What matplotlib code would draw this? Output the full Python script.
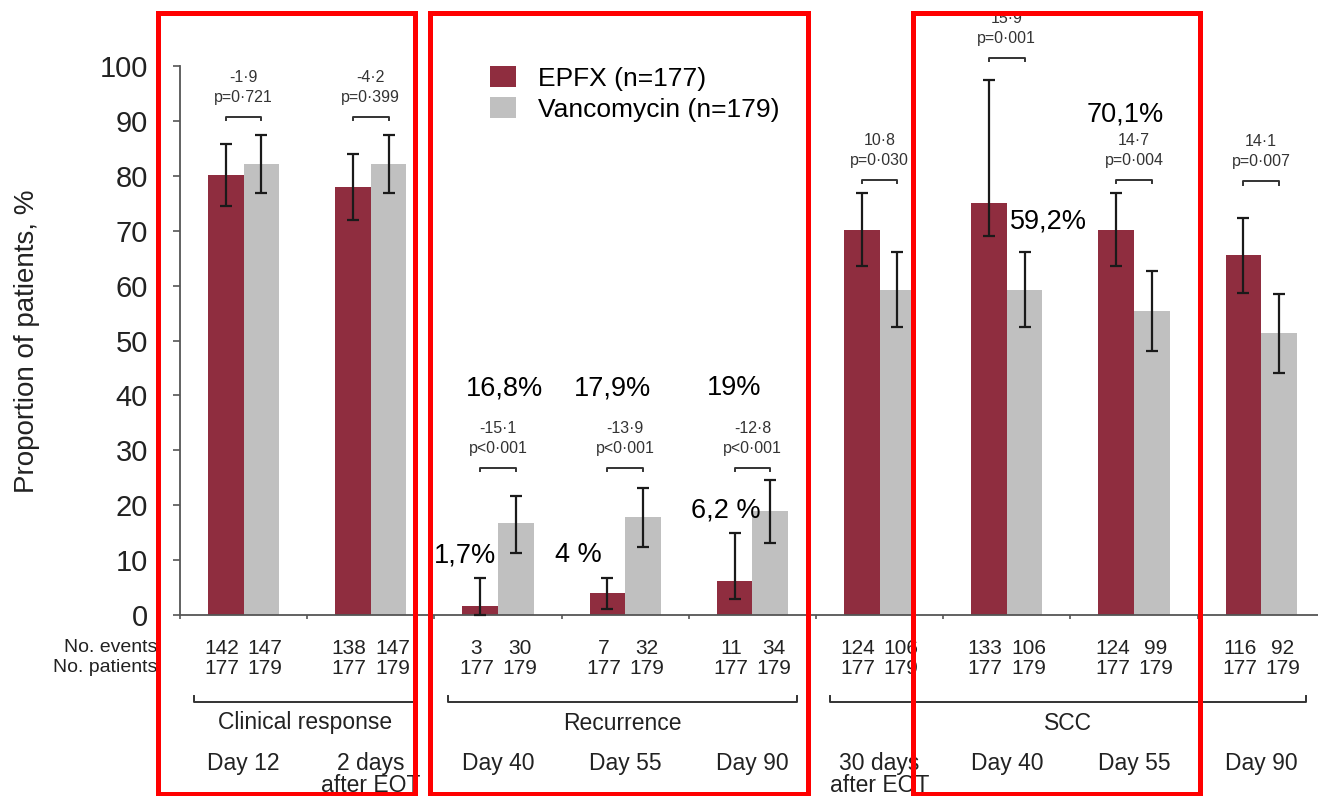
import matplotlib
matplotlib.use("Agg")
import matplotlib.pyplot as plt
import matplotlib.transforms as mtransforms
from matplotlib.patches import Rectangle

plt.rcParams['font.family'] = ['Liberation Sans', 'DejaVu Sans']

# data
groups = ["Day 12", "2 days\nafter EOT", "Day 40", "Day 55", "Day 90",
          "30 days\nafter EOT", "Day 40", "Day 55", "Day 90"]
epfx = [80.2, 78.0, 1.7, 4.0, 6.2, 70.1, 75.1, 70.1, 65.5]
vanc = [82.1, 82.1, 16.8, 17.9, 19.0, 59.2, 59.2, 55.3, 51.4]
epfx_lo = [74.5, 71.9, 0.0, 1.1, 2.9, 63.6, 69.0, 63.6, 58.6]
epfx_hi = [85.8, 84.0, 6.7, 6.7, 15.0, 76.9, 97.4, 76.9, 72.3]
vanc_lo = [76.9, 76.9, 11.3, 12.4, 13.1, 52.5, 52.5, 48.1, 44.1]
vanc_hi = [87.4, 87.4, 21.7, 23.2, 24.5, 66.2, 66.2, 62.7, 58.5]
events_epfx = [142, 138, 3, 7, 11, 124, 133, 124, 116]
events_vanc = [147, 147, 30, 32, 34, 106, 106, 99, 92]
patients_epfx = [177] * 9
patients_vanc = [179] * 9
diff_text = ["-1·9", "-4·2", "-15·1", "-13·9", "-12·8", "10·8", "15·9", "14·7", "14·1"]
p_text = ["p=0·721", "p=0·399", "p<0·001", "p<0·001", "p<0·001",
          "p=0·030", "p=0·001", "p=0·004", "p=0·007"]
bracket_y = [90.7, 90.7, 26.8, 26.8, 26.8, 79.2, 101.5, 79.2, 79.0]
sections = [("Clinical response", 0, 1), ("Recurrence", 2, 4), ("SCC", 5, 8)]

# overlay percentages added on the slide (label, x, y in data units)
overlay_labels = ["16,8%", "17,9%", "19%", "1,7%", "4 %", "6,2 %", "59,2%", "70,1%"]
overlay_x = [2.55, 3.40, 4.36, 2.24, 3.13, 4.29, 6.83, 7.43]
overlay_y = [41.3, 41.3, 41.3, 10.9, 10.9, 19.1, 71.6, 91.1]

W, H = 1318, 796
fig = plt.figure(figsize=(W / 100, H / 100), dpi=100)
ax = fig.add_axes([180 / W, (H - 615) / H, (W - 180) / W, 549 / H])

red = "#8F2D3F"
grey = "#C0C0C0"
bw = 0.28
xc = [i + 0.5 for i in range(len(groups))]
xe = [x - bw / 2 for x in xc]
xv = [x + bw / 2 for x in xc]

b1 = ax.bar(xe, epfx, width=bw, color=red, label="EPFX (n=177)", zorder=2)
b2 = ax.bar(xv, vanc, width=bw, color=grey, label="Vancomycin (n=179)", zorder=2)

err_e = [[v - lo for v, lo in zip(epfx, epfx_lo)], [hi - v for v, hi in zip(epfx, epfx_hi)]]
err_v = [[v - lo for v, lo in zip(vanc, vanc_lo)], [hi - v for v, hi in zip(vanc, vanc_hi)]]
ax.errorbar(xe, epfx, yerr=err_e, fmt="none", ecolor="#1a1a1a", elinewidth=1.6,
            capsize=4.5, capthick=1.6, zorder=3, clip_on=False)
ax.errorbar(xv, vanc, yerr=err_v, fmt="none", ecolor="#1a1a1a", elinewidth=1.6,
            capsize=4.5, capthick=1.6, zorder=3, clip_on=False)

# comparison brackets with difference and p value
for i in range(len(groups)):
    y = bracket_y[i]
    ax.plot([xe[i], xe[i], xv[i], xv[i]], [y - 0.6, y, y, y - 0.6],
            color="#333333", lw=1.4, clip_on=False)
    ax.annotate(p_text[i], (xc[i], y), xytext=(0, 14), textcoords="offset points",
                ha="center", va="center", fontsize=11.5, color="#333333",
                annotation_clip=False)
    ax.annotate(diff_text[i], (xc[i], y), xytext=(0, 28.5), textcoords="offset points",
                ha="center", va="center", fontsize=11.5, color="#333333",
                annotation_clip=False)

for lab, x, y in zip(overlay_labels, overlay_x, overlay_y):
    ax.text(x, y, lab, ha="center", va="center", fontsize=19.5, color="black", zorder=5)

ax.set_xlim(0, (W - 180) / 127.2)
ax.set_ylim(0, 100)
ax.set_yticks(range(0, 101, 10))
ax.set_xticks(range(0, 9))
ax.set_xticklabels([])
ax.tick_params(axis="y", length=5, width=1.2, color="#555555", labelsize=21,
               pad=18, labelcolor="#222222")
ax.tick_params(axis="x", length=3, width=1.2, color="#555555")
for s in ["top", "right"]:
    ax.spines[s].set_visible(False)
for s in ["left", "bottom"]:
    ax.spines[s].set_color("#555555")
    ax.spines[s].set_linewidth(1.3)

fig.text(27 / W, 1 - 341 / H, "Proportion of patients, %", rotation=90,
         ha="center", va="center", fontsize=20, color="#222222",
         family=["Liberation Sans Narrow", "Liberation Sans"])

ax.legend(handles=[b1, b2], loc="upper left", bbox_to_anchor=(490 / W, 1 - 66 / H),
          bbox_transform=fig.transFigure, frameon=False, fontsize=19,
          handlelength=1.0, handleheight=0.85, handletextpad=0.8, labelspacing=0.25,
          borderpad=0, borderaxespad=0)

# table under the axis
tr = mtransforms.blended_transform_factory(ax.transData, fig.transFigure)
fy = lambda py: 1 - py / H
fig.text(157 / W, fy(648), "No. events", ha="right", va="center", fontsize=14, color="#222222")
fig.text(157 / W, fy(668), "No. patients", ha="right", va="center", fontsize=14, color="#222222")
for i in range(len(groups)):
    ax.text(xe[i] - 0.03, fy(648), str(events_epfx[i]), transform=tr, ha="center",
            va="center", fontsize=15, color="#222222")
    ax.text(xv[i] + 0.03, fy(648), str(events_vanc[i]), transform=tr, ha="center",
            va="center", fontsize=15, color="#222222")
    ax.text(xe[i] - 0.03, fy(668), str(patients_epfx[i]), transform=tr, ha="center",
            va="center", fontsize=15, color="#222222")
    ax.text(xv[i] + 0.03, fy(668), str(patients_vanc[i]), transform=tr, ha="center",
            va="center", fontsize=15, color="#222222")
    ax.text(xc[i], fy(752), groups[i], transform=tr, ha="center", va="top",
            fontsize=16.5, color="#222222", linespacing=0.95)

for name, g0, g1 in sections:
    x0, x1 = g0 + 0.11, g1 + 0.85
    ax.plot([x0, x0, x1, x1], [fy(696), fy(702), fy(702), fy(696)], transform=tr,
            color="#333333", lw=1.4, clip_on=False)
    ax.text((x0 + x1) / 2, fy(723), name, transform=tr, ha="center", va="center",
            fontsize=16.5, color="#222222")

# red highlight boxes
for x0, x1 in [(157.5, 414.5), (429.5, 807.5), (913.5, 1199.5)]:
    fig.add_artist(Rectangle((x0 / W, 1 - 793.5 / H), (x1 - x0) / W, (793.5 - 12.5) / H,
                             transform=fig.transFigure, fill=False, ec="#FF0000",
                             lw=3.6, zorder=10))

fig.savefig("out.png", dpi=100)
